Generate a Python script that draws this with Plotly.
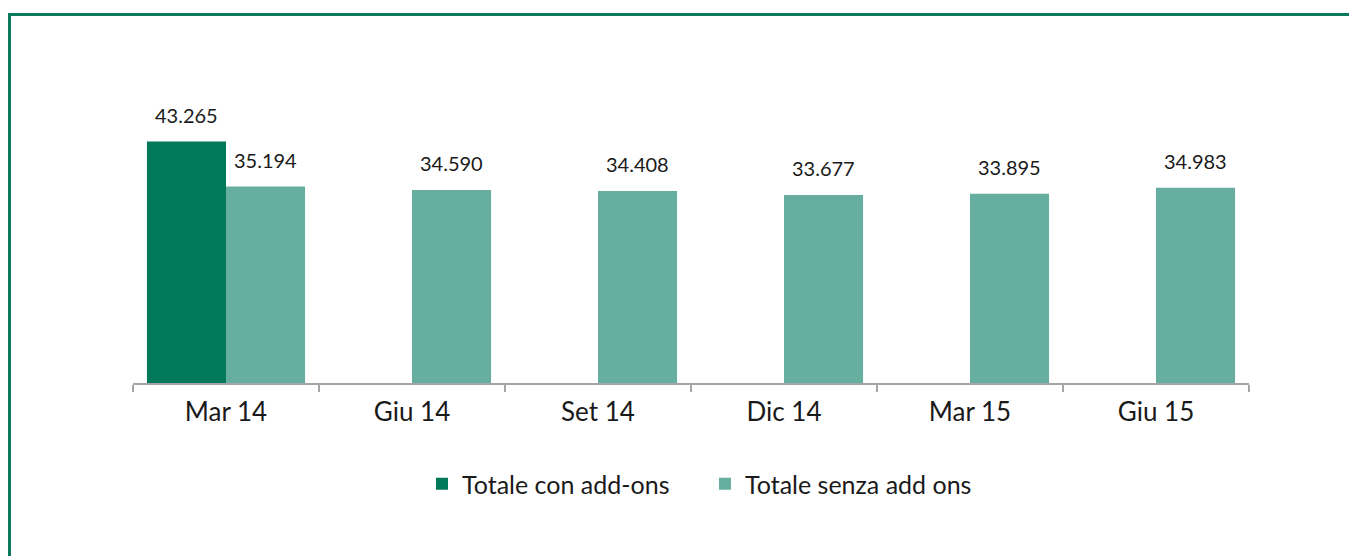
import plotly.graph_objects as go

categories = ["Mar 14", "Giu 14", "Set 14", "Dic 14", "Mar 15", "Giu 15"]
con_add_ons = [43265, None, None, None, None, None]
senza_add_ons = [35194, 34590, 34408, 33677, 33895, 34983]
series_names = ["Totale con add-ons", "Totale senza add ons"]

DARK = "#00785A"
LIGHT = "#66AFA0"
BORDER = "#0A7A5E"
FONT = "Lato"
OFF = 8  # default page body margin


def fmt(v):
    return f"{v:,}".replace(",", ".")


fig = go.Figure()
fig.add_trace(go.Bar(x=categories, y=con_add_ons, name=series_names[0],
                     marker=dict(color=DARK, line=dict(width=0))))
fig.add_trace(go.Bar(x=categories, y=senza_add_ons, name=series_names[1],
                     marker=dict(color=LIGHT, line=dict(width=0))))

annotations = []
for series, shift in ((con_add_ons, -39.5), (senza_add_ons, 39.5)):
    for c, v in zip(categories, series):
        if v is None:
            continue
        annotations.append(dict(x=c, y=v, xref="x", yref="y", text=fmt(v),
                                showarrow=False, xshift=shift, yshift=13,
                                yanchor="bottom",
                                font=dict(family=FONT, size=20, color="#1a1a1a")))

W, H = 1357 - OFF, 556 - OFF
L, R = 133 - OFF, 1357 - 1249
T, B = 104 - OFF, 556 - 383
pw, ph = W - L - R, H - T - B


def px(x):
    return (x - OFF - L) / pw


def py(y):
    return (H - B - (y - OFF)) / ph


shapes = [
    dict(type="line", xref="paper", yref="paper", x0=px(8), x1=px(1370),
         y0=py(14.5), y1=py(14.5), line=dict(color=BORDER, width=3)),
    dict(type="line", xref="paper", yref="paper", x0=px(9.5), x1=px(9.5),
         y0=py(13), y1=py(580), line=dict(color=BORDER, width=3)),
]

fig.update_layout(
    width=W, height=H,
    margin=dict(l=L, r=R, t=T, b=B),
    paper_bgcolor="white", plot_bgcolor="white",
    barmode="group", bargap=0.15, bargroupgap=0,
    font=dict(family=FONT, color="#1a1a1a"),
    annotations=annotations,
    shapes=shapes,
    showlegend=True,
    legend=dict(orientation="h", xanchor="left", yanchor="middle",
                x=px(436 - 14), y=py(484), entrywidth=238, entrywidthmode="pixels",
                font=dict(family=FONT, size=25, color="#1a1a1a"),
                traceorder="normal"),
    xaxis=dict(showline=True, linecolor="#A6A6A6", linewidth=1.5,
               ticks="outside", tickson="boundaries", ticklen=7,
               tickcolor="#A6A6A6", tickwidth=1.5, ticklabelstandoff=5,
               tickfont=dict(family=FONT, size=26, color="#1a1a1a"),
               showgrid=False, fixedrange=True),
    yaxis=dict(range=[0, 50000], visible=False, showgrid=False, fixedrange=True),
)

fig.write_html("out.html")
